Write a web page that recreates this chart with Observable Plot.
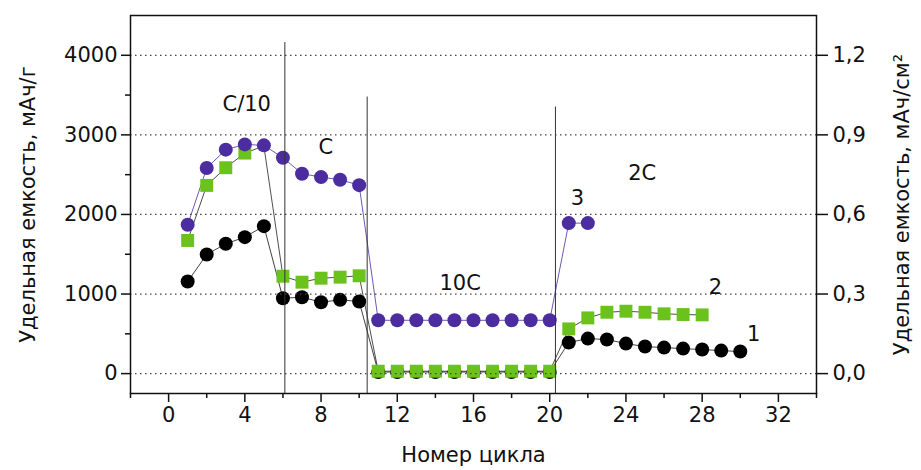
<!DOCTYPE html>
<html>
<head>
<meta charset="utf-8">
<script src="https://cdn.jsdelivr.net/npm/d3@7"></script>
<script src="https://cdn.jsdelivr.net/npm/@observablehq/plot@0.6"></script>
<style>
  html, body { margin: 0; padding: 0; background: #fff; }
  #chart { width: 921px; height: 470px; }
</style>
</head>
<body>
<div id="chart"></div>
<script>
// ---- data ----
const cycles1 = d3.range(1, 31);
const series1 = [1157, 1497, 1631, 1715, 1853, 947, 960, 897, 927, 906,
                 20, 20, 20, 20, 20, 20, 20, 20, 20, 20,
                 390, 440, 428, 377, 340, 327, 314, 302, 289, 277];
const cycles2 = d3.range(1, 29);
const series2 = [1673, 2365, 2587, 2771, 2860, 1224, 1149, 1199, 1212, 1229,
                 30, 30, 30, 30, 30, 30, 30, 30, 30, 30,
                 562, 700, 771, 784, 771, 751, 742, 738];
// cycles where the green square is hidden behind the purple circle
const hiddenGreen = [5];
const cycles3 = d3.range(1, 23);
const series3 = [1870, 2583, 2814, 2880, 2868, 2713, 2512, 2469, 2436, 2368,
                 670, 670, 670, 670, 670, 670, 670, 670, 670, 670,
                 1891, 1891];

// rate-change markers (cycle position, top of line in mAh/g)
const rateCycles = [6.1, 10.42, 20.3];
const rateTops = [4160, 3475, 3350];

// annotations
const noteText = ["C/10", "C", "10C", "3", "2C", "2", "1"];
const noteX = [4.1, 8.25, 15.3, 21.45, 24.85, 28.7, 30.7];
const noteY = [3390, 2840, 1135, 2200, 2515, 1080, 490];

// axes
const xMajor = [0, 4, 8, 12, 16, 20, 24, 28, 32];
const xMinor = [-2, 2, 6, 10, 14, 18, 22, 26, 30, 34];
const yMajor = [0, 1000, 2000, 3000, 4000];
const yMinor = [500, 1500, 2500, 3500];
const rightTicks = [0, 0.3, 0.6, 0.9, 1.2];
const areal = 0.0003; // mAh/cm² per mAh/g

const purple = "#4b2d9f";
const green = "#6cc21c";

const tbl = (xs, ys) => xs.map((c, i) => ({cycle: c, value: ys[i]}));
const d1 = tbl(cycles1, series1);
const d2 = tbl(cycles2, series2);
const d3s = tbl(cycles3, series3);
const rates = rateCycles.map((c, i) => ({x: c, top: rateTops[i]}));
const notes = noteText.map((t, i) => ({t, x: noteX[i], y: noteY[i]}));

const font = "DejaVu Sans, Liberation Sans, sans-serif";
const fs = 21;

const chart = Plot.plot({
  width: 921,
  height: 470,
  marginLeft: 130,
  marginRight: 105,
  marginTop: 15,
  marginBottom: 77,
  style: {fontFamily: font, fontSize: fs + "px", background: "#fff", color: "#111"},
  x: {domain: [-2, 34]},
  y: {domain: [-250, 4500]},
  marks: [
    // connecting lines
    Plot.line(d1, {x: "cycle", y: "value", stroke: "#111", strokeWidth: 0.8}),
    Plot.line(d2, {x: "cycle", y: "value", stroke: "#222", strokeWidth: 0.8}),
    Plot.line(d3s, {x: "cycle", y: "value", stroke: purple, strokeWidth: 0.8}),
    // symbols
    Plot.dot(d1, {x: "cycle", y: "value", r: 7, fill: "#000"}),
    Plot.dot(d2, {x: "cycle", y: "value", r: 7.3, symbol: "square", fill: green,
      filter: d => !hiddenGreen.includes(d.cycle)}),
    Plot.dot(d3s, {x: "cycle", y: "value", r: 7, fill: purple}),
    // grid
    Plot.ruleY(yMajor, {stroke: "#444", strokeWidth: 1.2, strokeDasharray: "1.5,3.5"}),
    // rate lines
    Plot.ruleX(rates, {x: "x", y1: -250, y2: "top", stroke: "#333", strokeWidth: 1}),
    // annotations
    Plot.text(notes, {x: "x", y: "y", text: "t", fontSize: fs, fill: "#111"}),
    // axes
    Plot.axisX({ticks: xMajor, tickSize: 9, tickPadding: 5, fontSize: fs,
      label: "Номер цикла", labelAnchor: "center", labelOffset: 68, labelArrow: "none", strokeWidth: 1.5}),
    Plot.axisX({ticks: xMinor, tickSize: 5, tickFormat: () => "", label: null, strokeWidth: 1.5}),
    Plot.axisY({ticks: yMajor, tickSize: 9, tickPadding: 4, fontSize: fs, tickFormat: d => String(d),
      label: "Удельная емкость, мАч/г", labelAnchor: "center", labelOffset: 110, labelArrow: "none", strokeWidth: 1.5}),
    Plot.axisY({ticks: yMinor, tickSize: 5, tickFormat: () => "", label: null, strokeWidth: 1.5}),
    Plot.axisY({anchor: "right", ticks: rightTicks.map(t => t / areal), tickSize: 11, tickPadding: 5, fontSize: fs,
      tickFormat: d => (d * areal).toFixed(1).replace(".", ","),
      label: "Удельная емкость, мАч/см²", labelAnchor: "center", labelOffset: 92, labelArrow: "none", strokeWidth: 1.5}),
    Plot.frame({stroke: "#111", strokeWidth: 1.5})
  ]
});
document.getElementById("chart").appendChild(chart);
</script>
</body>
</html>
